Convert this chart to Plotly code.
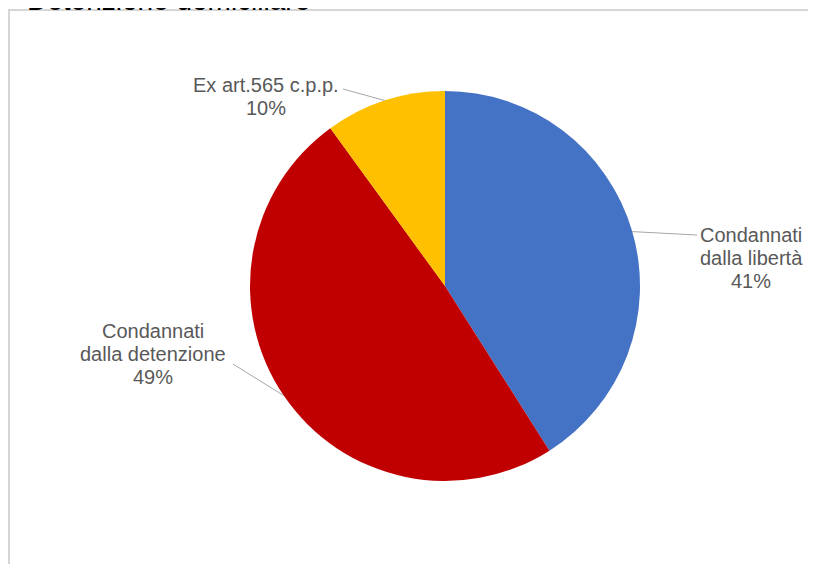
import math
import plotly.graph_objects as go

# ---- data ----
labels = ["Condannati<br>dalla libertà", "Condannati<br>dalla detenzione", "Ex art.565 c.p.p."]
values = [41, 49, 10]
colors = ["#4472C4", "#C00000", "#FFC000"]
title_text = "Detenzione domiciliare"

W, H = 816, 564
OFF = 8  # page body margin offset
CX, CY, R = 445 - OFF, 286 - OFF, 195  # pie placement in figure px


def px(x):
    return (x - OFF) / W


def py(y):
    return 1 - (y - OFF) / H


fig = go.Figure()
fig.add_trace(go.Pie(
    labels=labels, values=values, sort=False, direction="clockwise", rotation=0,
    marker=dict(colors=colors, line=dict(width=0)),
    textinfo="none", hoverinfo="label+percent", showlegend=False,
    domain=dict(x=[(CX - R) / W, (CX + R) / W], y=[1 - (CY + R) / H, 1 - (CY - R) / H]),
))

# label layout (page px): text centre x, first line y, leader-line end point
label_pos = [
    dict(tx=751, ty=235, lx=697, ly=235),
    dict(tx=153, ty=331, lx=233, ly=364),
    dict(tx=266, ty=85, lx=343, ly=89),
]
LINE_GAP = 23
FONT = dict(family="Liberation Sans, Arial, sans-serif", size=20, color="#595959")

total = sum(values)
cum = 0
annotations = []
shapes = []
for lab, v, pos in zip(labels, values, label_pos):
    theta = 2 * math.pi * (cum + v / 2) / total
    cum += v
    ex = CX + OFF + R * math.sin(theta)
    ey = CY + OFF - R * math.cos(theta)
    pct = round(100 * v / total)
    lines = lab.split("<br>") + [f"{pct}%"]
    for i, ln in enumerate(lines):
        annotations.append(dict(
            x=px(pos["tx"]), y=py(pos["ty"] + i * LINE_GAP), xref="paper", yref="paper",
            text=ln, showarrow=False, xanchor="center", yanchor="middle",
            font=FONT,
        ))
    shapes.append(dict(
        type="line", xref="paper", yref="paper",
        x0=px(pos["lx"]), y0=py(pos["ly"]), x1=px(ex), y1=py(ey),
        line=dict(color="#A6A6A6", width=1),
    ))

# outer chart border (partially visible)
shapes.append(dict(type="rect", xref="paper", yref="paper",
                   x0=px(9), x1=1.2, y0=-0.2, y1=py(10),
                   line=dict(color="#D6D6D6", width=2), layer="below"))

annotations.append(dict(
    x=px(25), y=py(18), xref="paper", yref="paper", text=title_text,
    showarrow=False, xanchor="left", yanchor="bottom",
    font=dict(family="Liberation Sans, Arial, sans-serif", size=28, color="#000000"),
))

fig.update_layout(
    width=W, height=H, margin=dict(l=0, r=0, t=0, b=0),
    paper_bgcolor="white", plot_bgcolor="white",
    annotations=annotations, shapes=shapes,
)

fig.write_html("out.html")
